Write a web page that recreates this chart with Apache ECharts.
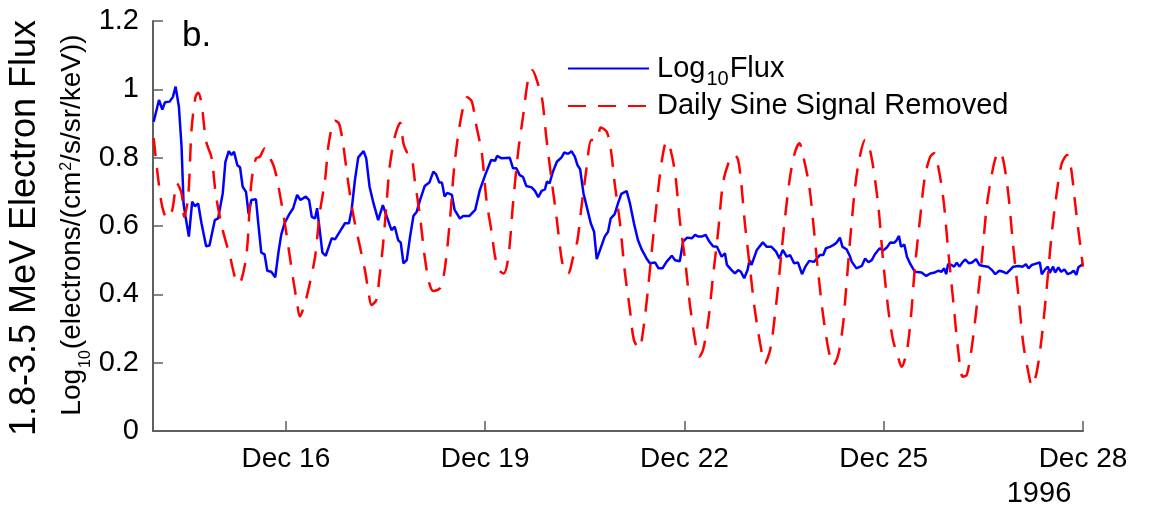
<!DOCTYPE html>
<html>
<head>
<meta charset="utf-8">
<script src="https://cdn.jsdelivr.net/npm/echarts@6/dist/echarts.min.js"></script>
<style>
  html, body { margin: 0; padding: 0; background: #ffffff; }
  #chart { width: 1149px; height: 513px; }
</style>
</head>
<body>
<div id="chart"></div>
<script>
// Time is in days of December 1996 (e.g. 16.5 = Dec 16, 12:00).
const fluxDay = [
  14.01,14.09,14.14,14.18,14.25,14.30,14.34,14.39,14.43,14.46,
  14.49,14.54,14.59,14.63,14.68,14.73,14.80,14.85,14.93,14.98,
  15.05,15.09,15.14,15.18,15.22,15.27,15.31,15.35,15.40,15.44,
  15.48,15.55,15.58,15.63,15.68,15.72,15.78,15.81,15.84,15.89,
  15.93,15.98,16.05,16.11,16.17,16.22,16.30,16.35,16.39,16.44,
  16.47,16.51,16.55,16.60,16.69,16.74,16.81,16.89,16.95,16.99,
  17.04,17.09,17.17,17.21,17.26,17.32,17.39,17.46,17.52,17.59,
  17.64,17.69,17.73,17.77,17.82,17.87,17.92,17.97,18.02,18.09,
  18.16,18.22,18.26,18.31,18.35,18.39,18.43,18.50,18.54,18.62,
  18.67,18.76,18.85,18.92,19.00,19.09,19.15,19.18,19.25,19.37,
  19.42,19.47,19.52,19.57,19.62,19.70,19.75,19.80,19.85,19.90,
  19.93,19.97,20.02,20.08,20.15,20.19,20.25,20.30,20.35,20.39,
  20.43,20.48,20.53,20.59,20.64,20.68,20.73,20.80,20.85,20.89,
  20.95,21.00,21.05,21.13,21.18,21.24,21.30,21.36,21.43,21.48,
  21.56,21.61,21.67,21.73,21.81,21.86,21.93,21.98,22.04,22.11,
  22.16,22.21,22.26,22.32,22.37,22.43,22.49,22.56,22.61,22.64,
  22.71,22.76,22.81,22.85,22.90,22.95,22.98,23.01,23.09,23.18,
  23.24,23.31,23.38,23.43,23.48,23.54,23.59,23.65,23.71,23.77,
  23.82,23.88,23.95,24.04,24.09,24.13,24.19,24.24,24.29,24.34,
  24.38,24.44,24.49,24.52,24.59,24.67,24.72,24.77,24.82,24.87,
  24.94,24.99,25.05,25.10,25.16,25.19,25.23,25.26,25.31,25.35,
  25.40,25.47,25.57,25.64,25.70,25.77,25.82,25.87,25.91,25.94,
  25.97,26.02,26.06,26.10,26.14,26.19,26.23,26.28,26.33,26.39,
  26.44,26.50,26.57,26.63,26.68,26.74,26.80,26.85,26.90,26.95,
  27.03,27.09,27.14,27.18,27.23,27.28,27.35,27.38,27.43,27.47,
  27.50,27.55,27.58,27.63,27.67,27.72,27.77,27.82,27.86,27.90,
  27.93,27.98,28.00
];
const fluxLog = [
  0.905,0.969,0.941,0.962,0.964,0.978,1.008,0.949,0.832,0.666,
  0.627,0.569,0.671,0.658,0.666,0.608,0.541,0.543,0.617,0.622,
  0.696,0.788,0.819,0.808,0.817,0.778,0.772,0.715,0.700,0.635,
  0.676,0.678,0.617,0.522,0.517,0.469,0.466,0.471,0.450,0.525,
  0.574,0.608,0.634,0.652,0.691,0.676,0.686,0.676,0.627,0.622,
  0.652,0.588,0.522,0.513,0.564,0.561,0.583,0.608,0.608,0.647,
  0.735,0.801,0.819,0.798,0.715,0.666,0.617,0.661,0.627,0.588,
  0.598,0.559,0.551,0.491,0.500,0.569,0.629,0.642,0.676,0.717,
  0.727,0.759,0.752,0.727,0.727,0.686,0.697,0.691,0.647,0.622,
  0.629,0.629,0.647,0.705,0.749,0.793,0.791,0.805,0.798,0.800,
  0.769,0.769,0.749,0.744,0.717,0.713,0.703,0.684,0.703,0.707,
  0.730,0.725,0.759,0.788,0.801,0.815,0.811,0.819,0.803,0.778,
  0.766,0.696,0.656,0.608,0.583,0.503,0.530,0.569,0.583,0.622,
  0.635,0.666,0.694,0.702,0.666,0.608,0.559,0.530,0.505,0.491,
  0.493,0.476,0.476,0.495,0.513,0.500,0.497,0.554,0.566,0.564,
  0.574,0.569,0.569,0.574,0.556,0.541,0.539,0.510,0.520,0.486,
  0.471,0.461,0.471,0.466,0.447,0.471,0.500,0.486,0.530,0.552,
  0.539,0.539,0.525,0.505,0.530,0.510,0.515,0.491,0.493,0.459,
  0.481,0.498,0.495,0.515,0.515,0.535,0.539,0.544,0.551,0.566,
  0.539,0.532,0.512,0.495,0.476,0.483,0.505,0.494,0.500,0.518,
  0.535,0.528,0.538,0.552,0.551,0.557,0.571,0.539,0.546,0.510,
  0.489,0.466,0.464,0.454,0.461,0.464,0.469,0.466,0.476,0.459,
  0.489,0.486,0.481,0.493,0.481,0.495,0.502,0.491,0.493,0.503,
  0.486,0.483,0.481,0.471,0.459,0.469,0.466,0.461,0.471,0.481,
  0.483,0.481,0.488,0.476,0.486,0.489,0.493,0.459,0.473,0.481,
  0.463,0.481,0.464,0.479,0.466,0.473,0.459,0.463,0.469,0.457,
  0.479,0.486,0.491
];
const sineDay = [
  14.01,14.08,14.14,14.21,14.29,14.36,14.43,14.47,14.53,14.58,
  14.64,14.68,14.73,14.80,14.88,14.95,15.05,15.16,15.23,15.27,
  15.33,15.41,15.48,15.55,15.61,15.68,15.75,15.82,15.88,15.98,
  16.06,16.12,16.17,16.21,16.28,16.36,16.44,16.51,16.59,16.65,
  16.74,16.80,16.86,16.94,17.02,17.11,17.19,17.24,17.29,17.36,
  17.41,17.46,17.52,17.56,17.64,17.72,17.77,17.82,17.89,17.94,
  18.02,18.09,18.16,18.22,18.32,18.39,18.47,18.54,18.64,18.73,
  18.80,18.87,18.95,19.02,19.10,19.15,19.21,19.28,19.35,19.42,
  19.50,19.57,19.65,19.71,19.80,19.86,19.92,20.00,20.08,20.15,
  20.20,20.25,20.32,20.39,20.45,20.53,20.60,20.68,20.74,20.83,
  20.89,20.95,21.03,21.10,21.18,21.24,21.32,21.38,21.45,21.53,
  21.61,21.67,21.73,21.78,21.86,21.93,22.01,22.08,22.16,22.22,
  22.28,22.36,22.43,22.51,22.58,22.66,22.73,22.80,22.85,22.91,
  22.99,23.06,23.14,23.21,23.29,23.36,23.44,23.51,23.59,23.66,
  23.73,23.79,23.88,23.95,24.01,24.09,24.17,24.24,24.32,24.39,
  24.42,24.49,24.57,24.64,24.72,24.78,24.84,24.92,24.99,25.07,
  25.14,25.20,25.27,25.35,25.41,25.47,25.55,25.62,25.70,25.76,
  25.82,25.90,25.97,26.05,26.12,26.19,26.25,26.32,26.40,26.48,
  26.55,26.63,26.69,26.75,26.81,26.88,26.95,27.03,27.10,27.18,
  27.23,27.30,27.38,27.46,27.53,27.61,27.68,27.76,27.82,27.87,
  27.93,28.00
];
const sineLog = [
  0.857,0.735,0.656,0.622,0.647,0.725,0.696,0.627,0.686,0.881,
  0.978,0.990,0.959,0.847,0.801,0.686,0.588,0.510,0.452,0.432,
  0.442,0.520,0.725,0.798,0.803,0.827,0.803,0.774,0.725,0.613,
  0.510,0.432,0.374,0.335,0.369,0.432,0.510,0.637,0.735,0.847,
  0.908,0.900,0.842,0.725,0.627,0.544,0.471,0.413,0.369,0.383,
  0.452,0.539,0.676,0.769,0.861,0.902,0.842,0.817,0.803,0.735,
  0.627,0.510,0.432,0.410,0.418,0.471,0.617,0.783,0.920,0.977,
  0.964,0.891,0.813,0.676,0.579,0.510,0.471,0.461,0.510,0.666,
  0.822,0.920,1.032,1.056,1.013,0.969,0.861,0.735,0.617,0.505,
  0.466,0.461,0.505,0.559,0.656,0.774,0.852,0.852,0.888,0.876,
  0.827,0.725,0.608,0.471,0.354,0.266,0.242,0.296,0.413,0.569,
  0.715,0.803,0.847,0.832,0.754,0.617,0.500,0.374,0.266,0.217,
  0.237,0.325,0.452,0.588,0.725,0.783,0.808,0.798,0.735,0.608,
  0.471,0.354,0.257,0.198,0.237,0.335,0.481,0.617,0.744,0.813,
  0.842,0.803,0.715,0.588,0.471,0.335,0.237,0.193,0.227,0.315,
  0.383,0.549,0.715,0.803,0.852,0.832,0.774,0.656,0.500,0.354,
  0.266,0.227,0.188,0.237,0.335,0.481,0.627,0.744,0.803,0.813,
  0.774,0.676,0.530,0.374,0.237,0.159,0.164,0.237,0.364,0.510,
  0.656,0.754,0.803,0.817,0.783,0.686,0.539,0.393,0.257,0.169,
  0.132,0.169,0.276,0.432,0.579,0.705,0.783,0.808,0.769,0.686,
  0.588,0.481
];
const dayTicks = [16, 19, 22, 25, 28];
const monthLabel = 'Dec';
const yearLabel = '1996';
const panelLabel = 'b.';
const fluxName = 'Log10 Flux';
const sineName = 'Daily Sine Signal Removed';

const FONT = '"Liberation Sans", Arial, Helvetica, sans-serif';
const AXIS_COLOR = '#5f5f5f';
const pairs = (xs, ys) => xs.map((x, i) => [x, ys[i]]);

const chart = echarts.init(document.getElementById('chart'), null, { renderer: 'canvas' });

chart.setOption({
  animation: false,
  backgroundColor: '#ffffff',
  grid: { left: 153, top: 21, width: 930, height: 410, containLabel: false, outerBoundsMode: 'none' },
  xAxis: {
    type: 'value',
    min: 14,
    max: 28,
    axisLine: { show: true, onZero: false, lineStyle: { color: AXIS_COLOR, width: 2 } },
    axisTick: { show: true, inside: true, length: 10, customValues: dayTicks,
                lineStyle: { color: AXIS_COLOR, width: 1.5 } },
    axisLabel: { customValues: dayTicks, formatter: v => monthLabel + ' ' + v,
                 fontFamily: FONT, fontSize: 28, color: '#000', margin: 14 },
    splitLine: { show: false }
  },
  yAxis: {
    type: 'value',
    min: 0,
    max: 1.2,
    interval: 0.2,
    axisLine: { show: true, lineStyle: { color: AXIS_COLOR, width: 2 } },
    axisTick: { show: true, inside: true, length: 10, lineStyle: { color: AXIS_COLOR, width: 1.5 } },
    axisLabel: { fontFamily: FONT, fontSize: 29, color: '#000', margin: 14 },
    splitLine: { show: false }
  },
  legend: {
    orient: 'vertical',
    left: 567,
    top: 54,
    padding: 0,
    itemWidth: 81,
    itemHeight: 14,
    itemGap: 2,
    // line-only keys: the marker symbol is made invisible
    itemStyle: { color: 'rgba(0,0,0,0)', borderWidth: 0, opacity: 0 },
    data: [fluxName, sineName],
    formatter: name => name === fluxName
      ? '{p|Log}{s|10}{t|Flux}'
      : '{u|' + name + '}',
    textStyle: {
      fontFamily: FONT, fontSize: 29, color: '#000',
      rich: {
        p: { fontFamily: FONT, fontSize: 29, color: '#000', lineHeight: 42, padding: [0, 0, 0, 3] },
        t: { fontFamily: FONT, fontSize: 29, color: '#000', lineHeight: 42 },
        s: { fontFamily: FONT, fontSize: 20, color: '#000', verticalAlign: 'top', padding: [22, 1, 0, 1] },
        u: { fontFamily: FONT, fontSize: 29, color: '#000', lineHeight: 30, padding: [0, 0, 0, 3] }
      }
    }
  },
  graphic: [
    {
      type: 'text', x: 25, y: 228, rotation: Math.PI / 2, silent: true,
      style: { text: '1.8-3.5 MeV Electron Flux', fontFamily: FONT, fontSize: 36, fill: '#000',
               align: 'center', verticalAlign: 'middle' }
    },
    {
      type: 'text', x: 72, y: 225, rotation: Math.PI / 2, silent: true,
      style: {
        text: '{a|Log}{b|10}{a|(electrons/(cm}{c|2}{a|/s/sr/keV))}',
        align: 'center', verticalAlign: 'middle',
        rich: {
          a: { fontFamily: FONT, fontSize: 28, fill: '#000', lineHeight: 46 },
          b: { fontFamily: FONT, fontSize: 16, fill: '#000', verticalAlign: 'top', padding: [29, 1, 0, 1] },
          c: { fontFamily: FONT, fontSize: 16, fill: '#000', verticalAlign: 'top', padding: [10, 0, 0, 1] }
        }
      }
    },
    {
      type: 'text', x: 1039, y: 494, silent: true,
      style: { text: yearLabel, fontFamily: FONT, fontSize: 29, fill: '#000',
               align: 'center', verticalAlign: 'middle' }
    },
    {
      type: 'text', x: 182, y: 19, silent: true,
      style: { text: panelLabel, fontFamily: FONT, fontSize: 35, fill: '#000',
               align: 'left', verticalAlign: 'top' }
    }
  ],
  series: [
    {
      name: fluxName,
      type: 'line',
      data: pairs(fluxDay, fluxLog),
      symbol: 'none',
      showSymbol: false,
      lineStyle: { color: '#0000ff', width: 2.5 },
      itemStyle: { color: '#0000ff' },
      z: 2
    },
    {
      name: sineName,
      type: 'line',
      data: pairs(sineDay, sineLog),
      symbol: 'none',
      showSymbol: false,
      smooth: 0.3,
      lineStyle: { color: '#ff0000', width: 2.5, type: [18, 12] },
      itemStyle: { color: '#ff0000' },
      z: 3
    }
  ]
});
</script>
</body>
</html>
